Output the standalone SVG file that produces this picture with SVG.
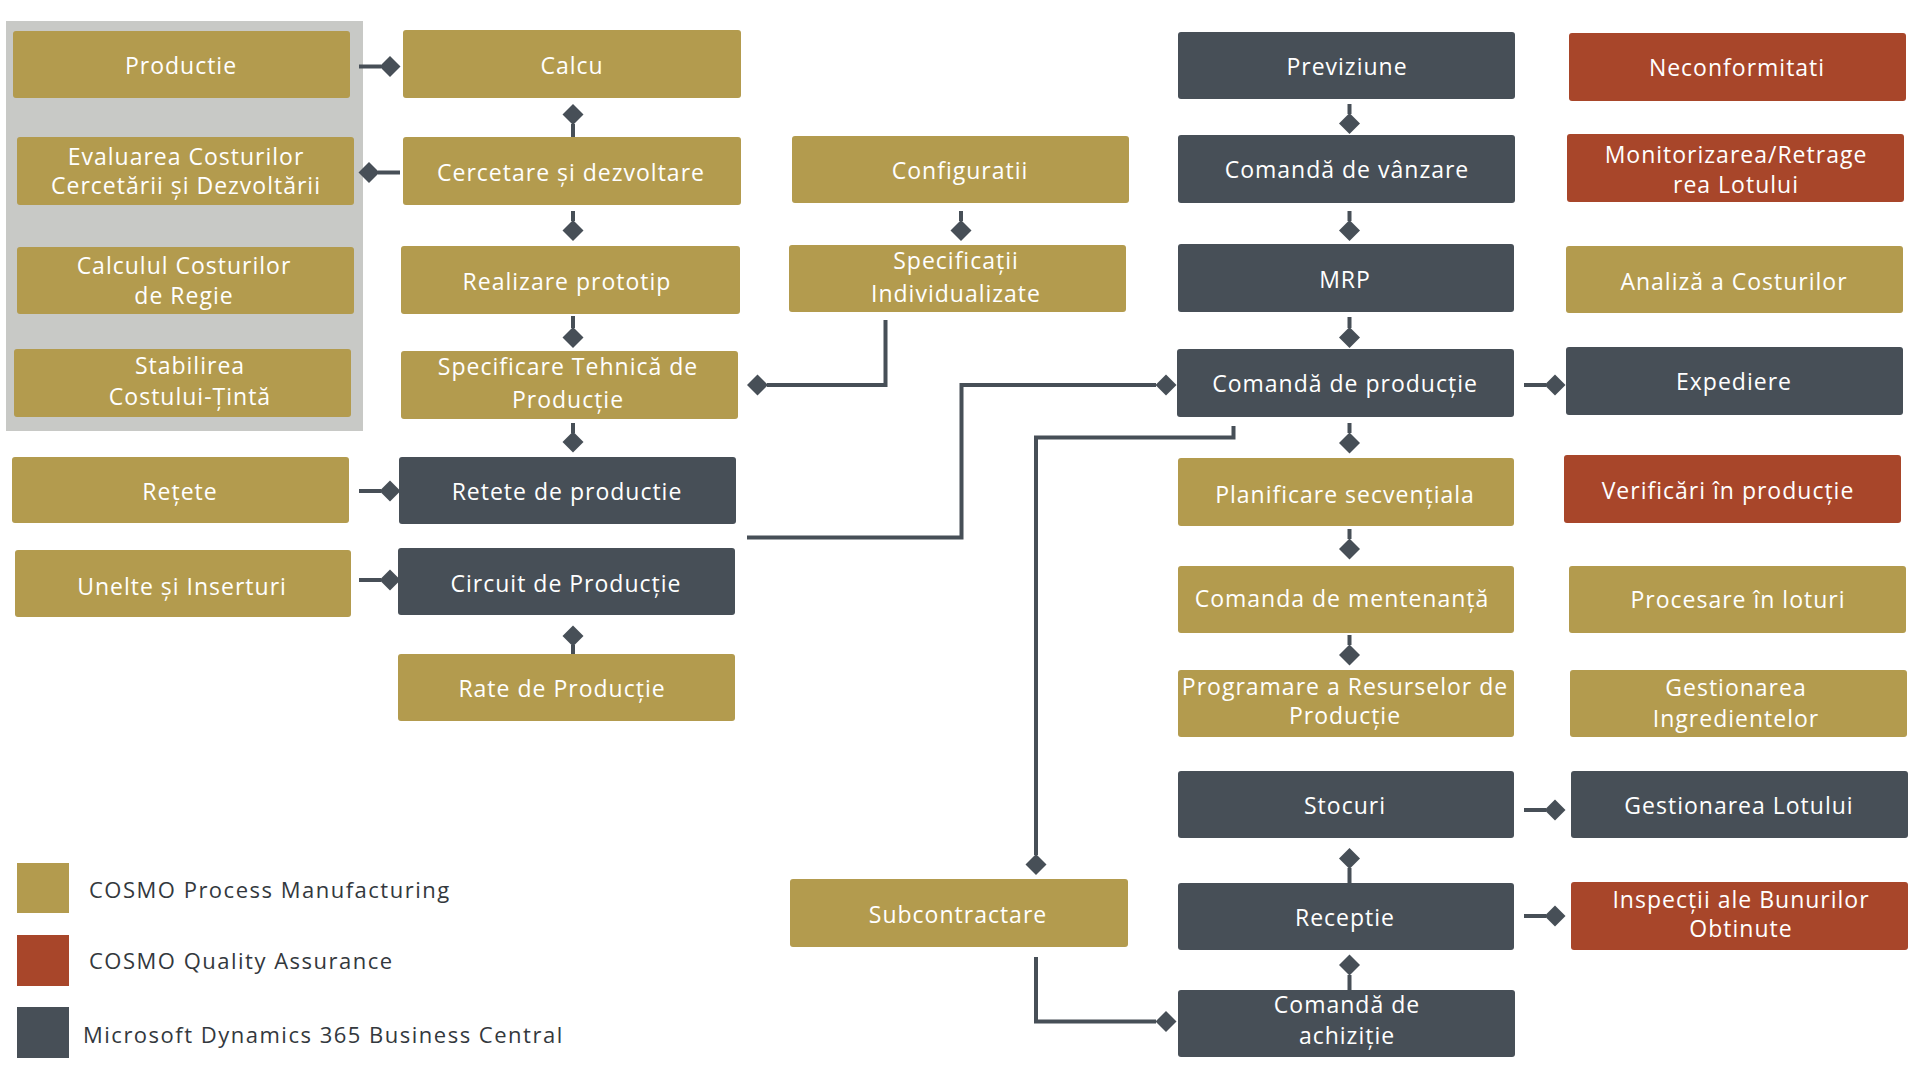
<svg xmlns="http://www.w3.org/2000/svg" xmlns:xlink="http://www.w3.org/1999/xlink" width="1920" height="1080" viewBox="0 0 1920 1080">
<style>
.g{fill:#B39B4E}
.d{fill:#474F57}
.r{fill:#A8462A}
.t{font-family:"Open Sans","Liberation Sans",sans-serif;font-size:23px;font-weight:500;fill:#FFFFFF;text-anchor:middle;letter-spacing:1px}
.lg{font-family:"Open Sans","Liberation Sans",sans-serif;font-size:22px;font-weight:500;fill:#33383D;letter-spacing:1.5px}
.c{fill:none;stroke:#474F57;stroke-width:4}
.m{fill:#474F57}
</style>
<defs>
<path id="dia" d="M0,-10.5 L10.5,0 L0,10.5 L-10.5,0 Z"/>
</defs>
<rect width="1920" height="1080" fill="#FFFFFF"/>
<rect id="panel" x="6" y="21" width="357" height="410" fill="#C8C9C6"/>

<g id="connectors">
<path class="c" d="M359,66.5 H381"/><use class="m" href="#dia" x="390" y="66.5"/>
<path class="c" d="M573,124 V137"/><use class="m" href="#dia" x="573" y="114.5"/>
<path class="c" d="M400,172.5 H378"/><use class="m" href="#dia" x="369" y="172.5"/>
<path class="c" d="M573,211 V221"/><use class="m" href="#dia" x="573" y="230.5"/>
<path class="c" d="M573,316 V328"/><use class="m" href="#dia" x="573" y="337.5"/>
<path class="c" d="M573,423 V433"/><use class="m" href="#dia" x="573" y="442"/>
<path class="c" d="M359,491 H381"/><use class="m" href="#dia" x="390" y="491"/>
<path class="c" d="M359,580 H381"/><use class="m" href="#dia" x="390" y="580"/>
<path class="c" d="M573,645 V654"/><use class="m" href="#dia" x="573" y="636"/>
<path class="c" d="M961,211 V221"/><use class="m" href="#dia" x="961" y="230.5"/>
<path class="c" d="M885.5,320 V385 H767"/><use class="m" href="#dia" x="757.5" y="385"/>
<path class="c" d="M747,537.5 H961.5 V385 H1156"/><use class="m" href="#dia" x="1166" y="385"/>
<path class="c" d="M1349.5,104 V114"/><use class="m" href="#dia" x="1349.5" y="123.5"/>
<path class="c" d="M1349.5,211 V221"/><use class="m" href="#dia" x="1349.5" y="230.5"/>
<path class="c" d="M1349.5,317 V328"/><use class="m" href="#dia" x="1349.5" y="337.5"/>
<path class="c" d="M1524,385 H1546"/><use class="m" href="#dia" x="1555" y="385"/>
<path class="c" d="M1233.5,426 V437.5 H1036 V855"/><use class="m" href="#dia" x="1036" y="864.5"/>
<path class="c" d="M1349.5,423 V433"/><use class="m" href="#dia" x="1349.5" y="443"/>
<path class="c" d="M1349.5,529 V539"/><use class="m" href="#dia" x="1349.5" y="549"/>
<path class="c" d="M1349.5,635 V645"/><use class="m" href="#dia" x="1349.5" y="655"/>
<path class="c" d="M1349.5,868 V883"/><use class="m" href="#dia" x="1349.5" y="858.5"/>
<path class="c" d="M1349.5,975 V990"/><use class="m" href="#dia" x="1349.5" y="965"/>
<path class="c" d="M1524,810 H1546"/><use class="m" href="#dia" x="1555" y="810"/>
<path class="c" d="M1524,916 H1546"/><use class="m" href="#dia" x="1555" y="916"/>
<path class="c" d="M1036,957 V1021.5 H1156"/><use class="m" href="#dia" x="1166" y="1021.5"/>
</g>

<g id="n-productie"><rect class="g" x="13" y="31" width="337" height="67" rx="3"/><text class="t" x="181" y="74">Productie</text></g>
<g id="n-evaluarea"><rect class="g" x="17" y="137" width="337" height="68" rx="3"/><text class="t" x="186" y="165">Evaluarea Costurilor</text><text class="t" x="186" y="194">Cercetării și Dezvoltării</text></g>
<g id="n-calculul"><rect class="g" x="17" y="247" width="337" height="67" rx="3"/><text class="t" x="184" y="274">Calculul Costurilor</text><text class="t" x="184" y="304">de Regie</text></g>
<g id="n-stabilirea"><rect class="g" x="14" y="349" width="337" height="68" rx="3"/><text class="t" x="190" y="374">Stabilirea</text><text class="t" x="190" y="405">Costului-Țintă</text></g>
<g id="n-retete"><rect class="g" x="12" y="457" width="337" height="66" rx="3"/><text class="t" x="180" y="500">Rețete</text></g>
<g id="n-unelte"><rect class="g" x="15" y="550" width="336" height="67" rx="3"/><text class="t" x="182" y="595">Unelte și Inserturi</text></g>

<g id="n-calcu"><rect class="g" x="403" y="30" width="338" height="68" rx="3"/><text class="t" x="572" y="74">Calcu</text></g>
<g id="n-cercetare"><rect class="g" x="403" y="137" width="338" height="68" rx="3"/><text class="t" x="571" y="181">Cercetare și dezvoltare</text></g>
<g id="n-realizare"><rect class="g" x="401" y="246" width="339" height="68" rx="3"/><text class="t" x="567" y="290">Realizare prototip</text></g>
<g id="n-specificare"><rect class="g" x="401" y="351" width="337" height="68" rx="3"/><text class="t" x="568" y="375">Specificare Tehnică de</text><text class="t" x="568" y="408">Producție</text></g>
<g id="n-retete-productie"><rect class="d" x="399" y="457" width="337" height="67" rx="3"/><text class="t" x="567" y="500">Retete de productie</text></g>
<g id="n-circuit"><rect class="d" x="398" y="548" width="337" height="67" rx="3"/><text class="t" x="566" y="592">Circuit de Producție</text></g>
<g id="n-rate"><rect class="g" x="398" y="654" width="337" height="67" rx="3"/><text class="t" x="562" y="697">Rate de Producție</text></g>

<g id="n-configuratii"><rect class="g" x="792" y="136" width="337" height="67" rx="3"/><text class="t" x="960" y="179">Configuratii</text></g>
<g id="n-specificatii"><rect class="g" x="789" y="245" width="337" height="67" rx="3"/><text class="t" x="956" y="269">Specificații</text><text class="t" x="956" y="302">Individualizate</text></g>
<g id="n-subcontractare"><rect class="g" x="790" y="879" width="338" height="68" rx="3"/><text class="t" x="958" y="923">Subcontractare</text></g>

<g id="n-previziune"><rect class="d" x="1178" y="32" width="337" height="67" rx="3"/><text class="t" x="1347" y="75">Previziune</text></g>
<g id="n-comanda-vanzare"><rect class="d" x="1178" y="135" width="337" height="68" rx="3"/><text class="t" x="1347" y="178">Comandă de vânzare</text></g>
<g id="n-mrp"><rect class="d" x="1178" y="244" width="336" height="68" rx="3"/><text class="t" x="1345" y="288">MRP</text></g>
<g id="n-comanda-productie"><rect class="d" x="1177" y="349" width="337" height="68" rx="3"/><text class="t" x="1345" y="392">Comandă de producție</text></g>
<g id="n-planificare"><rect class="g" x="1178" y="458" width="336" height="68" rx="3"/><text class="t" x="1345" y="503">Planificare secvențiala</text></g>
<g id="n-mentenanta"><rect class="g" x="1178" y="566" width="336" height="67" rx="3"/><text class="t" x="1342" y="607">Comanda de mentenanță</text></g>
<g id="n-programare"><rect class="g" x="1178" y="670" width="336" height="67" rx="3"/><text class="t" x="1345" y="695">Programare a Resurselor de</text><text class="t" x="1345" y="724">Producție</text></g>
<g id="n-stocuri"><rect class="d" x="1178" y="771" width="336" height="67" rx="3"/><text class="t" x="1345" y="814">Stocuri</text></g>
<g id="n-receptie"><rect class="d" x="1178" y="883" width="336" height="67" rx="3"/><text class="t" x="1345" y="926">Receptie</text></g>
<g id="n-comanda-achizitie"><rect class="d" x="1178" y="990" width="337" height="67" rx="3"/><text class="t" x="1347" y="1013">Comandă de</text><text class="t" x="1347" y="1044">achiziție</text></g>

<g id="n-neconformitati"><rect class="r" x="1569" y="33" width="337" height="68" rx="3"/><text class="t" x="1737" y="76">Neconformitati</text></g>
<g id="n-monitorizarea"><rect class="r" x="1567" y="134" width="337" height="68" rx="3"/><text class="t" x="1736" y="163">Monitorizarea/Retrage</text><text class="t" x="1736" y="193">rea Lotului</text></g>
<g id="n-analiza"><rect class="g" x="1566" y="246" width="337" height="67" rx="3"/><text class="t" x="1734" y="290">Analiză a Costurilor</text></g>
<g id="n-expediere"><rect class="d" x="1566" y="347" width="337" height="68" rx="3"/><text class="t" x="1734" y="390">Expediere</text></g>
<g id="n-verificari"><rect class="r" x="1564" y="455" width="337" height="68" rx="3"/><text class="t" x="1728" y="499">Verificări în producție</text></g>
<g id="n-procesare"><rect class="g" x="1569" y="566" width="337" height="67" rx="3"/><text class="t" x="1738" y="608">Procesare în loturi</text></g>
<g id="n-ingrediente"><rect class="g" x="1570" y="670" width="337" height="67" rx="3"/><text class="t" x="1736" y="696">Gestionarea</text><text class="t" x="1736" y="727">Ingredientelor</text></g>
<g id="n-lotului"><rect class="d" x="1571" y="771" width="337" height="67" rx="3"/><text class="t" x="1739" y="814">Gestionarea Lotului</text></g>
<g id="n-inspectii"><rect class="r" x="1571" y="882" width="337" height="68" rx="3"/><text class="t" x="1741" y="908">Inspecții ale Bunurilor</text><text class="t" x="1741" y="937">Obtinute</text></g>

<g id="legend">
<rect class="g" x="17" y="863" width="52" height="50"/><text class="lg" x="89" y="898">COSMO Process Manufacturing</text>
<rect class="r" x="17" y="935" width="52" height="51"/><text class="lg" x="89" y="969">COSMO Quality Assurance</text>
<rect class="d" x="17" y="1007" width="52" height="51"/><text class="lg" x="83" y="1043">Microsoft Dynamics 365 Business Central</text>
</g>
</svg>
